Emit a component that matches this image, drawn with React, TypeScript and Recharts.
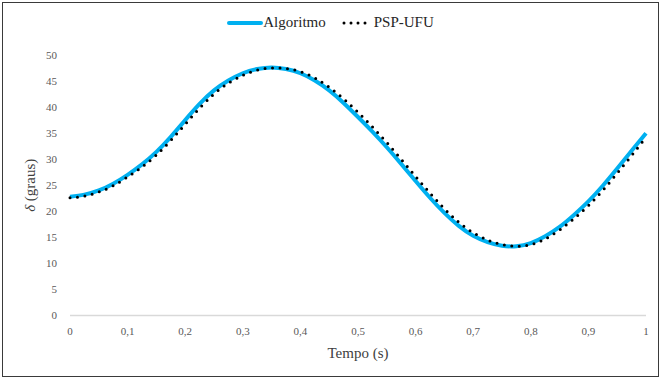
import React from 'react';
import { LineChart, Line, XAxis, YAxis, Legend } from 'recharts';

// tempo em segundos
const tempo = [
  0, 0.025, 0.05, 0.075, 0.1, 0.125, 0.15, 0.175, 0.2, 0.225,
  0.25, 0.275, 0.3, 0.325, 0.35, 0.375, 0.4, 0.425, 0.45, 0.475,
  0.5, 0.525, 0.55, 0.575, 0.6, 0.625, 0.65, 0.675, 0.7, 0.725,
  0.75, 0.775, 0.8, 0.825, 0.85, 0.875, 0.9, 0.925, 0.95, 0.975, 1,
];

const algoritmo = [
  22.8, 23.2, 24.0, 25.3, 27.0, 29.0, 31.4, 34.3, 37.5, 40.6,
  43.2, 45.1, 46.5, 47.3, 47.6, 47.3, 46.5, 45.1, 43.2, 40.8,
  38.1, 35.3, 32.3, 29.1, 25.8, 22.6, 19.7, 17.2, 15.3, 14.1,
  13.4, 13.3, 13.9, 15.2, 17.0, 19.3, 21.9, 24.9, 28.2, 31.6, 35.0,
];

const pspUfu = [
  22.6, 22.9, 23.7, 24.9, 26.6, 28.5, 30.8, 33.6, 36.7, 39.8,
  42.5, 44.6, 46.1, 47.1, 47.5, 47.4, 46.8, 45.6, 43.8, 41.6,
  39.0, 36.2, 33.2, 30.0, 26.7, 23.5, 20.5, 17.9, 15.9, 14.5,
  13.6, 13.3, 13.6, 14.7, 16.4, 18.6, 21.1, 24.0, 27.3, 30.7, 34.2,
];

const xTicks = [0, 0.1, 0.2, 0.3, 0.4, 0.5, 0.6, 0.7, 0.8, 0.9, 1];
const yTicks = [0, 5, 10, 15, 20, 25, 30, 35, 40, 45, 50];

const data = tempo.map((t, i) => ({ t, algoritmo: algoritmo[i], psp: pspUfu[i] }));

const FONT = "'Liberation Serif', 'Times New Roman', serif";
const BLUE = '#00B0F0';

const LegendBox = () => (
  <div style={{ display: 'flex', alignItems: 'center', justifyContent: 'center', fontFamily: FONT, fontSize: 15, color: '#262626' }}>
    <svg width={36} height={10}>
      <line x1={2} y1={5} x2={34} y2={5} stroke={BLUE} strokeWidth={4} strokeLinecap="round" />
    </svg>
    <span style={{ marginRight: 16 }}>Algoritmo</span>
    <svg width={32} height={10}>
      <line x1={2} y1={5} x2={30} y2={5} stroke="#000" strokeWidth={3} strokeDasharray="0 7" strokeLinecap="round" />
    </svg>
    <span>PSP-UFU</span>
  </div>
);

const YLabel = (props: any) => {
  const { viewBox } = props;
  const cx = viewBox.x + 30;
  const cy = viewBox.y + viewBox.height / 2;
  return (
    <text x={cx} y={cy} transform={`rotate(-90 ${cx} ${cy})`} textAnchor="middle" dominantBaseline="central"
      style={{ fontFamily: FONT, fontSize: 15 }} fill="#404040">
      <tspan fontStyle="italic">δ</tspan> (graus)
    </text>
  );
};

export default function App() {
  return (
    <div style={{ position: 'absolute', left: 0, top: 0, width: 661, height: 379, background: '#fff', fontFamily: FONT }}>
      <div style={{ position: 'absolute', left: 2, top: 2, width: 657, height: 375, boxSizing: 'border-box', border: '1.5px solid #3a3a3a' }} />
      <LineChart width={661} height={379} data={data} margin={{ top: 55, right: 15, bottom: 19.5, left: 0 }} style={{ fontFamily: FONT }}>
        <XAxis
          dataKey="t"
          type="number"
          domain={[0, 1]}
          ticks={xTicks}
          tickFormatter={(v: number) => String(v).replace('.', ',')}
          tickLine={false}
          axisLine={{ stroke: '#d9d9d9', strokeWidth: 1.3 }}
          tick={{ fontFamily: FONT, fontSize: 11, fill: '#595959' }}
          tickMargin={6}
          height={44}
          label={{ value: 'Tempo (s)', position: 'insideBottom', offset: 2, fontFamily: FONT, fontSize: 15, fill: '#404040' }}
        />
        <YAxis
          type="number"
          domain={[0, 50]}
          ticks={yTicks}
          tickLine={false}
          axisLine={false}
          width={70}
          tickMargin={7}
          tick={{ fontFamily: FONT, fontSize: 11, fill: '#595959' }}
          label={<YLabel />}
        />
        <Legend verticalAlign="middle" content={<LegendBox />} wrapperStyle={{ top: 14, left: 0, width: 661 }} />
        <Line type="natural" dataKey="algoritmo" name="Algoritmo" stroke={BLUE} strokeWidth={4} dot={false} isAnimationActive={false} />
        <Line type="natural" dataKey="psp" name="PSP-UFU" stroke="#000" strokeWidth={3} strokeDasharray="0 7.5" strokeLinecap="round" dot={false} isAnimationActive={false} />
      </LineChart>
    </div>
  );
}
